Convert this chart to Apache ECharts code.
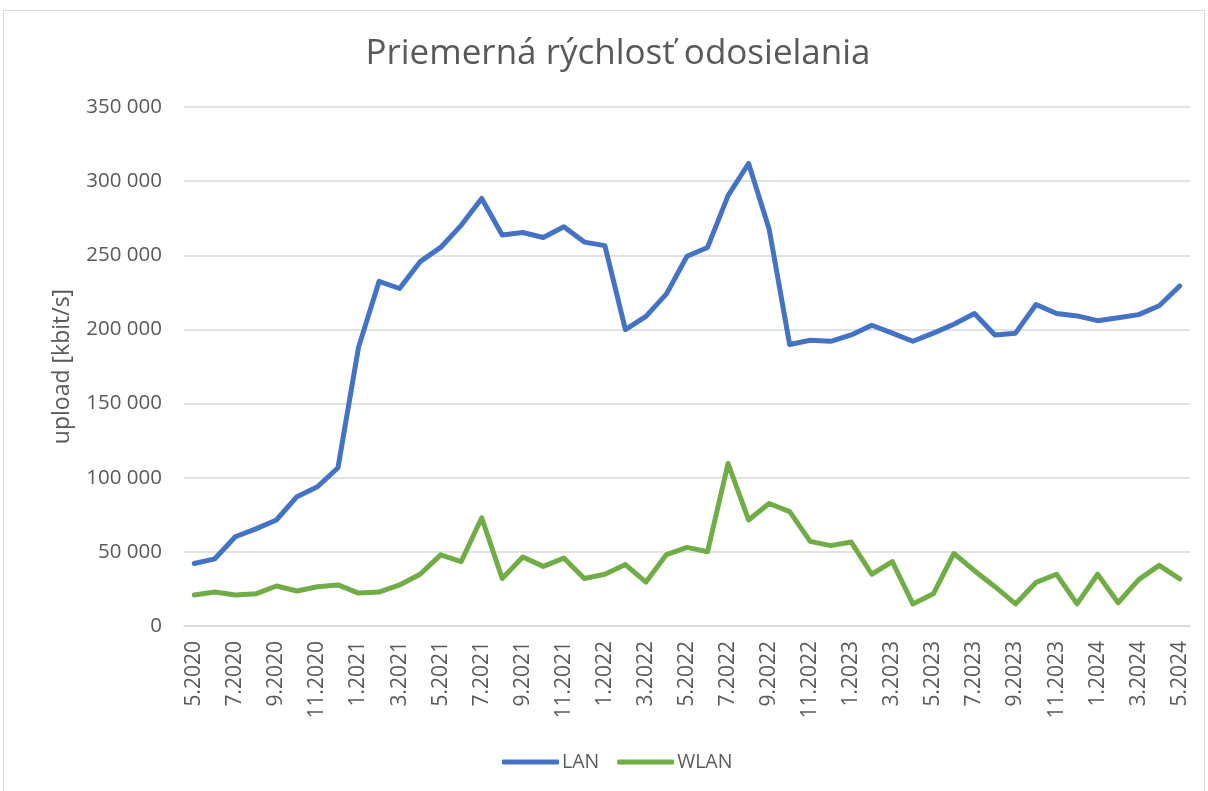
<!DOCTYPE html>
<html>
<head>
<meta charset="utf-8">
<script src="https://cdn.jsdelivr.net/npm/echarts@6/dist/echarts.min.js"></script>
<style>
html,body{margin:0;padding:0;background:#fff;}
#chart{width:1208px;height:791px;}
</style>
</head>
<body>
<div id="chart"></div>
<script>
const categories = [
  "5.2020","6.2020","7.2020","8.2020","9.2020","10.2020","11.2020","12.2020",
  "1.2021","2.2021","3.2021","4.2021","5.2021","6.2021","7.2021","8.2021","9.2021","10.2021","11.2021","12.2021",
  "1.2022","2.2022","3.2022","4.2022","5.2022","6.2022","7.2022","8.2022","9.2022","10.2022","11.2022","12.2022",
  "1.2023","2.2023","3.2023","4.2023","5.2023","6.2023","7.2023","8.2023","9.2023","10.2023","11.2023","12.2023",
  "1.2024","2.2024","3.2024","4.2024","5.2024"
];
const lanValues = [
  42150, 45300, 60200, 65500, 71500, 87200, 93900, 106700,
  187900, 232400, 227600, 245700, 255300, 270200, 288300, 263700, 265400, 262000, 269300, 258900,
  256500, 199900, 208800, 224000, 249300, 255300, 290200, 311900, 267800, 189800, 192700, 192000,
  196300, 202800, 197500, 192000, 197500, 203500, 210700, 196300, 197500, 216800, 210700, 209100,
  205900, 207900, 210000, 216000, 229300
];
const wlanValues = [
  20950, 22900, 20950, 21700, 27000, 23600, 26500, 27700,
  22200, 22900, 27700, 34900, 48000, 43400, 73000, 32000, 46500, 40200, 45800, 32000,
  34900, 41400, 29600, 48200, 53000, 50100, 109600, 71500, 82600, 77100, 57100, 54200,
  56600, 34900, 43400, 14900, 21700, 48900, 37300, 26500, 14900, 29400, 34900, 14900,
  34900, 15700, 31300, 40900, 31800
];
const yTicks = { min: 0, max: 350000, interval: 50000 };
const titleText = "Priemerná rýchlosť odosielania";
const yAxisName = "upload [kbit/s]";

const chart = echarts.init(document.getElementById('chart'));
const fmt = v => String(v).replace(/\B(?=(\d{3})+(?!\d))/g, ' ');
chart.setOption({
  animation: false,
  backgroundColor: '#fff',
  textStyle: { fontFamily: 'Open Sans' },
  graphic: [{
    type: 'rect', shape: { x: 3.5, y: 10.5, width: 1201, height: 790 },
    style: { fill: 'none', stroke: '#d9d9d9', lineWidth: 1 }, silent: true
  }],
  title: {
    text: titleText, left: 613, textAlign: 'center', top: 32,
    textStyle: { fontFamily: 'Open Sans', fontSize: 35, fontWeight: 'normal', color: '#595959' }
  },
  legend: {
    top: 747, left: 497, itemWidth: 57, itemHeight: 5, itemGap: 18,
    icon: 'roundRect',
    textStyle: { fontSize: 19.5, color: '#595959', fontFamily: 'Open Sans', padding: [0, 0, 0, -2] },
    data: ['LAN', 'WLAN']
  },
  grid: { left: 184, right: 18, top: 107, bottom: 165, containLabel: false },
  xAxis: {
    type: 'category', data: categories, boundaryGap: true,
    axisLine: { lineStyle: { color: '#d9d9d9', width: 1.5 } },
    axisTick: { show: false },
    axisLabel: { interval: 1, rotate: 90, fontSize: 21, color: '#595959', margin: 15, fontFamily: 'Open Sans' }
  },
  yAxis: {
    type: 'value', min: yTicks.min, max: yTicks.max, interval: yTicks.interval,
    name: yAxisName, nameLocation: 'middle', nameGap: 110, nameRotate: 90,
    nameTextStyle: { fontSize: 23, color: '#595959', fontFamily: 'Open Sans' },
    axisLine: { show: false }, axisTick: { show: false },
    axisLabel: { formatter: fmt, fontSize: 20.5, color: '#595959', margin: 22, fontFamily: 'Open Sans' },
    splitLine: { lineStyle: { color: '#d9d9d9', width: 1.5 } }
  },
  series: [
    { name: 'LAN', type: 'line', data: lanValues, showSymbol: false, symbol: 'none',
      lineStyle: { color: '#4472C4', width: 5, join: 'round', cap: 'round' }, itemStyle: { color: '#4472C4' } },
    { name: 'WLAN', type: 'line', data: wlanValues, showSymbol: false, symbol: 'none',
      lineStyle: { color: '#70AD47', width: 5, join: 'round', cap: 'round' }, itemStyle: { color: '#70AD47' } }
  ]
});
</script>
</body>
</html>
